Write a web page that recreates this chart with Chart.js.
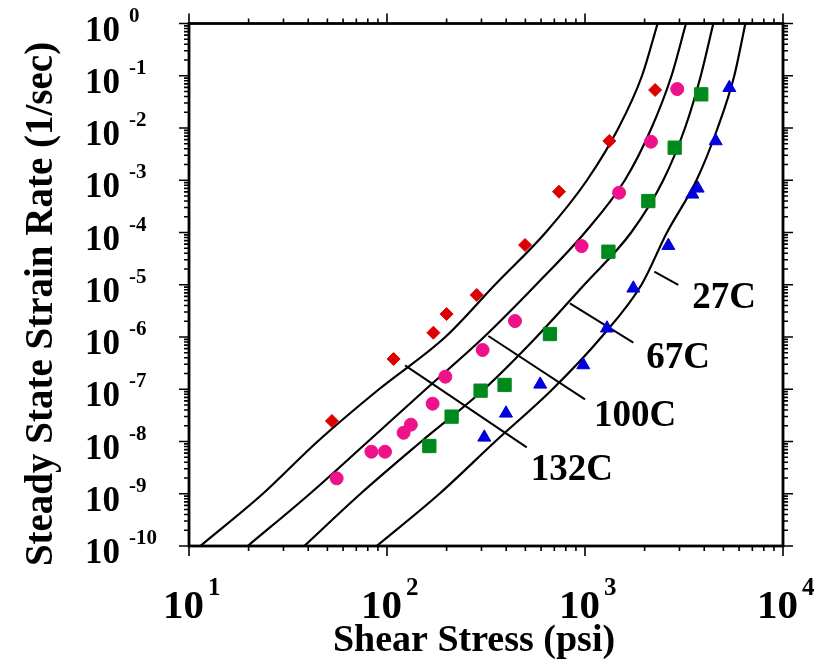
<!DOCTYPE html>
<html>
<head>
<meta charset="utf-8">
<style>
  html, body { margin: 0; padding: 0; background: #fff; }
</style>
</head>
<body>
<canvas id="myChart" width="817" height="664"></canvas>
<script src="https://cdn.jsdelivr.net/npm/chart.js"></script>
<script>
    // measured points (shear stress psi, strain rate 1/sec)
    const stress27 = [52.7, 108, 171.5, 200, 284, 498, 739, 1327, 2260];
    const rate27 = [2.47e-8, 3.8e-7, 1.21e-6, 2.75e-6, 6.37e-6, 5.77e-5, 6.04e-4, 5.64e-3, 5.34e-2];
    const stress67 = [55.7, 83.4, 97.7, 121.3, 132, 170, 197, 304, 443, 961, 1486, 2153, 2924];
    const rate67 = [1.97e-9, 6.38e-9, 6.38e-9, 1.47e-8, 2.1e-8, 5.29e-8, 1.74e-7, 5.64e-7, 2.02e-6, 5.5e-5, 5.78e-4, 5.47e-3, 5.57e-2];
    const stress100 = [163.6, 212, 297, 392.5, 665, 1313, 2089, 2838, 3864];
    const rate100 = [8.2e-9, 2.99e-8, 9.4e-8, 1.21e-7, 1.14e-6, 4.29e-5, 4.0e-4, 4.2e-3, 4.41e-2];
    const stress132 = [310, 399, 594, 980, 1291, 1754, 2636, 3484, 3707, 4571, 5357];
    const rate132 = [1.2e-8, 3.46e-8, 1.24e-7, 2.91e-7, 1.47e-6, 8.55e-6, 5.6e-5, 5.38e-4, 7.0e-4, 5.64e-3, 5.9e-2];

    // model curves, stress read at each decade of strain rate
    const fitRate = [1e-10, 1e-9, 1e-8, 1e-7, 1e-6, 1e-5, 1e-4, 1e-3, 1e-2, 1e-1, 1];
    const fit27 = [11.4, 23.6, 44.6, 91.1, 197, 351, 633, 1023, 1476, 1941, 2327];
    const fit67 = [19.8, 40.8, 80.2, 157, 309, 566, 999, 1589, 2167, 2735, 3236];
    const fit100 = [38.2, 73.5, 149, 309, 569, 991, 1710, 2484, 3199, 3845, 4446];
    const fit132 = [88.7, 184, 352, 685, 1211, 1929, 2594, 3656, 4677, 5675, 6457];

    // temperature labels and their leader lines
    const labelText = ['27C', '67C', '100C', '132C'];
    const labelStress = [5035, 2951, 1791, 859];
    const labelRate = [5.57e-6, 3.96e-7, 3.08e-8, 2.85e-9];
    const leaderStress = [[2239, 2958], [839, 1754], [325, 1000], [123.3, 508]];
    const leaderRate = [[1.78e-5, 9.9e-6], [4.42e-6, 7.78e-7], [1.045e-6, 6.42e-8], [2.87e-7, 7.74e-9]];

    // axis tick labels (powers of ten)
    const xExps = [1, 2, 3, 4];
    const yExps = [0, -1, -2, -3, -4, -5, -6, -7, -8, -9, -10];

    const serif = "'Liberation Serif', 'Times New Roman', serif";

    function pts(xs, ys) {
        return xs.map((v, i) => ({x: v, y: ys[i]}));
    }

    function marks(xs, ys, style, color, r) {
        return {
            data: pts(xs, ys), pointStyle: style, pointRadius: r,
            backgroundColor: color, borderColor: color, borderWidth: 1, order: 0
        };
    }

    function curve(xs) {
        return {
            data: pts(xs, fitRate), showLine: true, pointRadius: 0,
            borderColor: '#000', borderWidth: 2.2, cubicInterpolationMode: 'monotone', order: 1
        };
    }

    let datasets = [
        marks(stress27, rate27, 'rectRot', '#dd0000', 6.5),
        marks(stress67, rate67, 'circle', '#ee1189', 6.5),
        marks(stress100, rate100, 'rect', '#008a1e', 9.4),
        marks(stress132, rate132, 'triangle', '#0000dd', 7.5),
        curve(fit27), curve(fit67), curve(fit100), curve(fit132)
    ];
    for (let i = 0; i < leaderStress.length; i++) {
        datasets.push({
            data: pts(leaderStress[i], leaderRate[i]), showLine: true, pointRadius: 0,
            borderColor: '#000', borderWidth: 2, order: 1
        });
    }

    function power(ctx, x, y, exp, big, sup, gap, rise) {
        ctx.font = 'bold ' + big + 'px ' + serif;
        ctx.textAlign = 'right';
        ctx.fillText('10', x, y);
        ctx.font = 'bold ' + sup + 'px ' + serif;
        ctx.textAlign = 'left';
        ctx.fillText(String(exp), x + gap, y - rise);
    }

    const frame = {
        id: 'frame',
        afterDraw(chart) {
            const {ctx, chartArea: a, scales: {x, y}} = chart;
            ctx.save();
            ctx.strokeStyle = '#000';
            ctx.fillStyle = '#000';
            ctx.lineWidth = 2.8;
            ctx.strokeRect(a.left, a.top, a.right - a.left, a.bottom - a.top);

            // outward ticks on all four sides
            ctx.lineWidth = 1.6;
            ctx.beginPath();
            for (let e = xExps[0]; e <= xExps[xExps.length - 1]; e++) {
                for (let m = 1; m <= 9; m++) {
                    if (e === xExps[xExps.length - 1] && m > 1) break;
                    const px = x.getPixelForValue(m * Math.pow(10, e));
                    const len = m === 1 ? 10 : 5;
                    ctx.moveTo(px, a.bottom); ctx.lineTo(px, a.bottom + len);
                    ctx.moveTo(px, a.top); ctx.lineTo(px, a.top - len);
                }
            }
            for (let e = yExps[yExps.length - 1]; e <= yExps[0]; e++) {
                for (let m = 1; m <= 9; m++) {
                    if (e === yExps[0] && m > 1) break;
                    const py = y.getPixelForValue(m * Math.pow(10, e));
                    const len = m === 1 ? 10 : 5;
                    ctx.moveTo(a.left, py); ctx.lineTo(a.left - len, py);
                    ctx.moveTo(a.right, py); ctx.lineTo(a.right + len, py);
                }
            }
            ctx.stroke();

            ctx.textBaseline = 'alphabetic';
            for (const e of xExps) {
                const px = x.getPixelForValue(Math.pow(10, e));
                power(ctx, px + 15, a.bottom + 72, e, 41, 25, 4, 23);
            }
            for (const e of yExps) {
                const py = y.getPixelForValue(Math.pow(10, e));
                power(ctx, 120, py + 17, e, 35, 21, 9, 19);
            }

            // axis titles
            ctx.font = 'bold 38px ' + serif;
            ctx.textAlign = 'center';
            ctx.fillText('Shear Stress (psi)', 474, 651);
            ctx.save();
            ctx.translate(52, 304);
            ctx.rotate(-Math.PI / 2);
            ctx.font = 'bold 39px ' + serif;
            ctx.fillText('Steady State Strain Rate (1/sec)', 0, 0);
            ctx.restore();

            // temperature labels
            ctx.font = 'bold 37px ' + serif;
            ctx.textBaseline = 'middle';
            for (let i = 0; i < labelText.length; i++) {
                ctx.fillText(labelText[i], x.getPixelForValue(labelStress[i]), y.getPixelForValue(labelRate[i]));
            }
            ctx.restore();
        }
    };

    new Chart(document.getElementById('myChart'), {
        type: 'scatter',
        data: {datasets: datasets},
        options: {
            responsive: false,
            animation: false,
            devicePixelRatio: 1,
            layout: {padding: {left: 189, right: 34, top: 23.5, bottom: 118}},
            plugins: {legend: {display: false}, tooltip: {enabled: false}},
            scales: {
                x: {type: 'logarithmic', min: 10, max: 10000, display: false},
                y: {type: 'logarithmic', min: 1e-10, max: 1, display: false}
            }
        },
        plugins: [frame]
    });
</script>
</body>
</html>
